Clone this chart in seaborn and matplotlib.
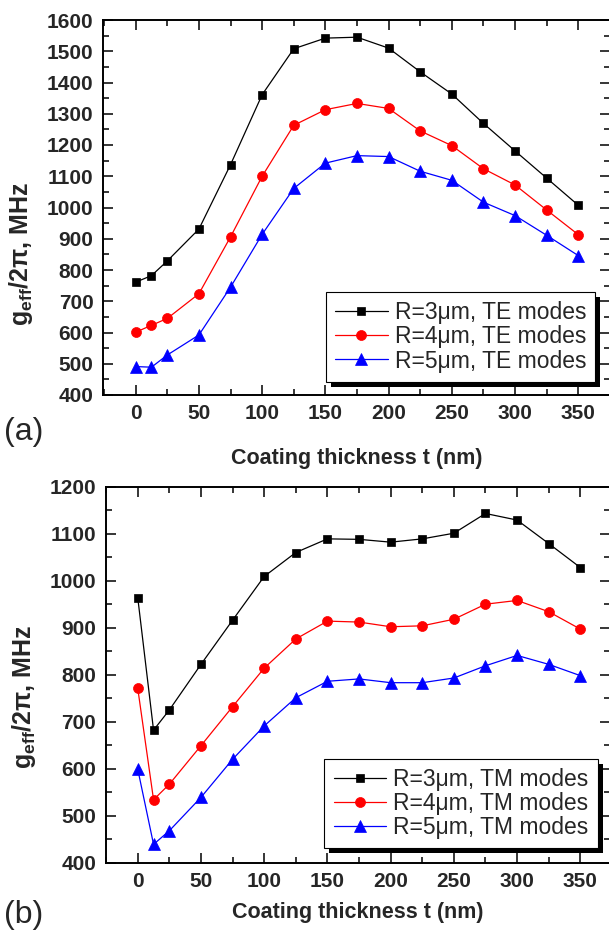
import numpy as np
import pandas as pd
import seaborn as sns
import matplotlib.pyplot as plt
from matplotlib.ticker import MultipleLocator
from matplotlib.patches import Rectangle
from matplotlib.transforms import IdentityTransform

# ---------------- data ----------------
thickness = [0, 12.5, 25, 50, 75, 100, 125, 150, 175, 200, 225, 250, 275, 300, 325, 350]

te_r3 = [761, 782, 829, 931, 1137, 1361, 1508, 1542, 1545, 1510, 1434, 1363, 1269, 1181, 1094, 1007]
te_r4 = [601, 623, 645, 724, 906, 1100, 1263, 1313, 1333, 1317, 1245, 1198, 1124, 1072, 992, 913]
te_r5 = [491, 489, 528, 592, 745, 914, 1061, 1142, 1166, 1163, 1116, 1087, 1017, 974, 911, 846]

tm_r3 = [964, 682, 725, 822, 916, 1009, 1060, 1089, 1088, 1082, 1089, 1101, 1143, 1129, 1079, 1028]
tm_r4 = [771, 534, 567, 649, 732, 814, 876, 914, 912, 902, 904, 918, 950, 958, 934, 897]
tm_r5 = [599, 439, 468, 539, 620, 691, 751, 786, 791, 783, 783, 793, 819, 841, 822, 798]

radii = ["R=3μm", "R=4μm", "R=5μm"]
colors = ["black", "red", "blue"]
markers = ["s", "o", "^"]
msizes = [6.3, 7.2, 8.5]

sns.set_style("ticks")
plt.rcParams["font.family"] = ["Liberation Sans", "DejaVu Sans"]
plt.rcParams["mathtext.fontset"] = "custom"
plt.rcParams["mathtext.rm"] = "Liberation Sans"
plt.rcParams["mathtext.bf"] = "Liberation Sans:bold"
plt.rcParams["mathtext.it"] = "Liberation Sans:italic"

W, H = 609, 935
fig = plt.figure(figsize=(W / 100, H / 100), dpi=100)
fig.patch.set_facecolor("white")


def make_frame(series, mode):
    rows = []
    for r, vals in zip(radii, series):
        for t, g in zip(thickness, vals):
            rows.append({"t": t, "g": g, "series": f"{r}, {mode} modes"})
    return pd.DataFrame(rows)


def draw_panel(ax, df, ylim, ystep, xlim, legend_anchor, ylabel_y, xlabelpad):
    for name, c, m, ms in zip(df["series"].unique(), colors, markers, msizes):
        sub = df[df["series"] == name]
        sns.lineplot(data=sub, x="t", y="g", ax=ax, color=c, marker=m,
                     markersize=ms, markeredgecolor=c, markeredgewidth=0.5,
                     linewidth=0.9, label=name)
    ax.set_xlim(*xlim)
    ax.set_ylim(*ylim)
    ax.xaxis.set_major_locator(MultipleLocator(50))
    ax.xaxis.set_minor_locator(MultipleLocator(25))
    ax.yaxis.set_major_locator(MultipleLocator(ystep))
    ax.yaxis.set_minor_locator(MultipleLocator(ystep / 2))
    ax.tick_params(which="both", direction="in", top=True, right=True,
                   width=1.1, labelsize=15, color="black")
    ax.tick_params(which="major", length=7)
    ax.tick_params(which="minor", length=4)
    ax.tick_params(axis="x", pad=6.5)
    ax.tick_params(axis="y", pad=7)
    for lab in ax.get_xticklabels() + ax.get_yticklabels():
        lab.set_fontweight("bold")
    for sp in ax.spines.values():
        sp.set_linewidth(1.4)
        sp.set_color("black")
    ax.set_xlabel("Coating thickness t (nm)", fontsize=15.5, fontweight="bold",
                  labelpad=xlabelpad)
    ax.set_ylabel(r"$\mathbf{g}_{\mathbf{eff}}$/2π, MHz", fontsize=18, fontweight="bold")
    ax.yaxis.set_label_coords(-0.135, ylabel_y)
    leg = ax.legend(loc="lower right", bbox_to_anchor=legend_anchor, borderaxespad=0,
                    fontsize=16.5, frameon=True, fancybox=False, framealpha=1,
                    edgecolor="black", handlelength=2.3, handletextpad=0.3,
                    labelspacing=0.05, borderpad=0.4)
    leg.get_frame().set_linewidth(0.8)
    return leg


ax1 = fig.add_axes([103.3 / W, 1 - 395 / H, (609.8 - 103.3) / W, 375 / H])
ax2 = fig.add_axes([106 / W, 1 - 862.7 / H, (609.8 - 106) / W, 376 / H])

leg1 = draw_panel(ax1, make_frame([te_r3, te_r4, te_r5], "TE"), (400, 1600), 100,
                  (-25.6, 374.9), (0.9713, 0.0355), 0.376, 18)
leg2 = draw_panel(ax2, make_frame([tm_r3, tm_r4, tm_r5], "TM"), (400, 1200), 100,
                  (-25.1, 373.3), (0.9758, 0.0383), 0.44, 8)

fig.text(4 / W, 1 - 432 / H, "(a)", fontsize=23, va="center", ha="left")
fig.text(4 / W, 1 - 915 / H, "(b)", fontsize=23, va="center", ha="left")

# solid offset shadow behind each legend box
fig.canvas.draw()
for ax, leg in [(ax1, leg1), (ax2, leg2)]:
    bb = leg.get_window_extent()
    sh = Rectangle((bb.x0 + 5, bb.y0 - 5), bb.width, bb.height,
                   transform=IdentityTransform(), facecolor="black",
                   edgecolor="none", zorder=leg.get_zorder() - 0.1, clip_on=False)
    ax.add_artist(sh)

fig.savefig("out.png", dpi=100)
